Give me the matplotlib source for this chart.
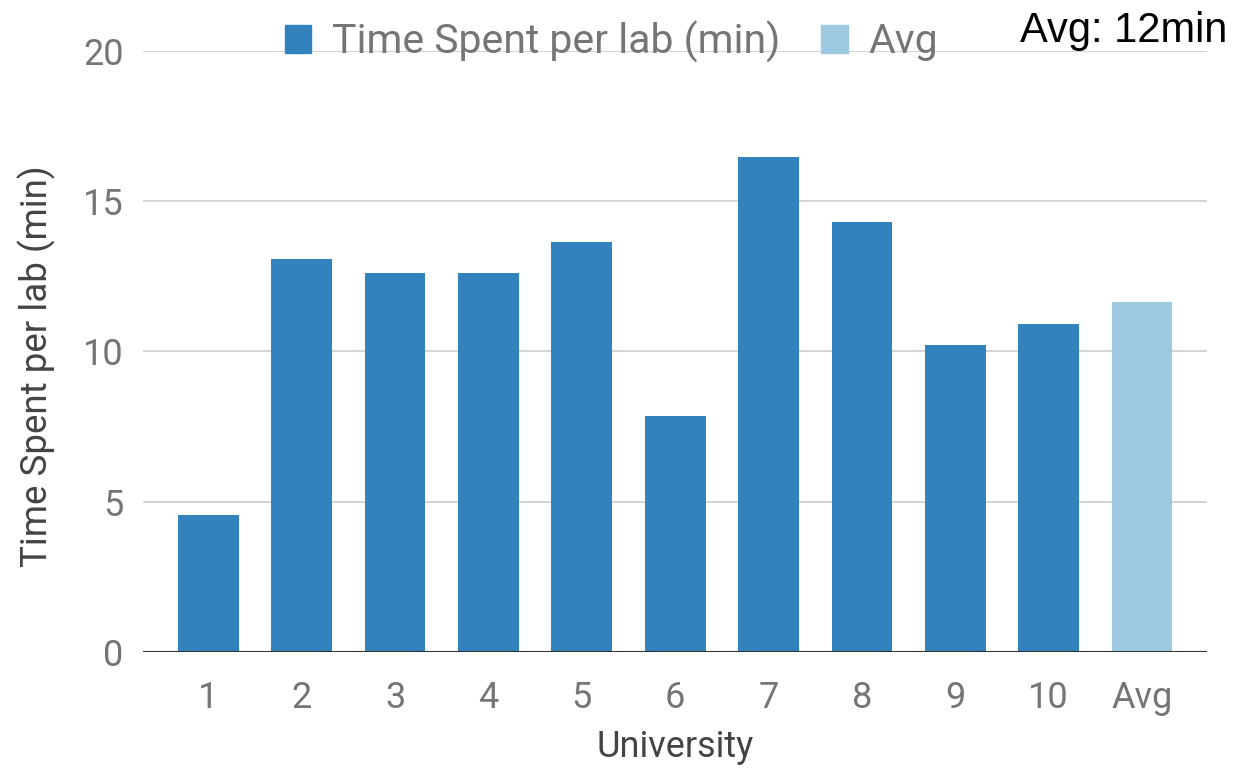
import matplotlib
matplotlib.use('Agg')
import matplotlib.pyplot as plt
from matplotlib.patches import Patch

plt.rcParams['font.family'] = ['Roboto', 'DejaVu Sans']

# Data
universities = ['1', '2', '3', '4', '5', '6', '7', '8', '9', '10']
time_spent = [4.57, 13.08, 12.6, 12.6, 13.65, 7.85, 16.47, 14.29, 10.22, 10.91]
avg_label = 'Avg'
avg_value = 11.65

blue = '#3182bd'
light_blue = '#9ecae1'

fig = plt.figure(figsize=(12.55, 7.69), dpi=100)
ax = fig.add_axes([0.114, 0.152, 0.848, 0.782])

x = list(range(len(universities)))
ax.bar(x, time_spent, width=0.65, color=blue, zorder=3)
ax.bar([len(universities)], [avg_value], width=0.65, color=light_blue, zorder=3)

ax.set_xlim(-0.7, len(universities) + 0.7)
ax.set_ylim(0, 20)
ax.set_yticks([0, 5, 10, 15, 20])
ax.set_xticks(x + [len(universities)])
ax.set_xticklabels(universities + [avg_label])

ax.grid(axis='y', color='#cccccc', linewidth=1.2, zorder=0)
ax.axhline(0, color='#333333', linewidth=1.5, zorder=4)
for s in ax.spines.values():
    s.set_visible(False)
ax.tick_params(length=0, labelsize=26, colors='#757575')
ax.tick_params(axis='y', pad=14)
ax.tick_params(axis='x', pad=20)

ax.set_xlabel('University', fontsize=26, color='#444444')
ax.xaxis.set_label_coords(0.5, -0.128)
ax.set_ylabel('Time Spent per lab (min)', fontsize=26.5, color='#444444')
ax.yaxis.set_label_coords(-0.082, 0.475)

handles = [Patch(color=blue, label='Time Spent per lab (min)'),
           Patch(color=light_blue, label='Avg')]
fig.legend(handles=handles, loc='center', bbox_to_anchor=(0.487, 0.946), ncol=2,
           frameon=False, fontsize=29.5, labelcolor='#757575', handlelength=0.65,
           handleheight=0.65, handletextpad=0.5, columnspacing=1.0)

fig.text(0.978, 0.945, 'Avg: 12min', ha='right', va='baseline', fontsize=30,
         family='Liberation Sans', color='black')

fig.savefig('out.png', dpi=100)
